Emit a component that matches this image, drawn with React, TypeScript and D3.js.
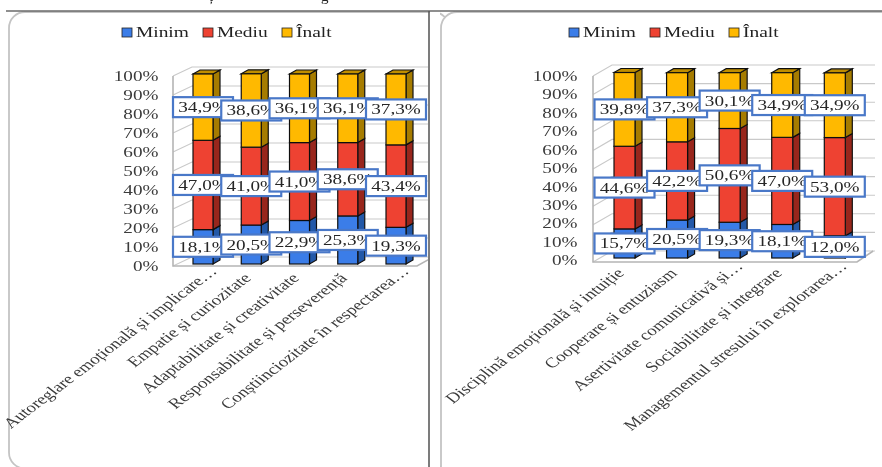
import React from "react";
import * as d3 from "d3";

const seriesNames = ["Minim", "Mediu", "Înalt"];
const leftCategories = [
  "Autoreglare emoțională și implicare…",
  "Empatie și curiozitate",
  "Adaptabilitate și creativitate",
  "Responsabilitate și perseverență",
  "Conștiinciozitate în respectarea…",
];
const leftMinim = [18.1, 20.5, 22.9, 25.3, 19.3];
const leftMediu = [47.0, 41.0, 41.0, 38.6, 43.4];
const leftInalt = [34.9, 38.6, 36.1, 36.1, 37.3];

const rightCategories = [
  "Disciplină emoțională și intuiție",
  "Cooperare și entuziasm",
  "Asertivitate comunicativă și…",
  "Sociabilitate și integrare",
  "Managementul stresului în explorarea…",
];
const rightMinim = [15.7, 20.5, 19.3, 18.1, 12.0];
const rightMediu = [44.6, 42.2, 50.6, 47.0, 53.0];
const rightInalt = [39.8, 37.3, 30.1, 34.9, 34.9];

const ticks = d3.range(0, 101, 10);
const FONT = "'Liberation Serif', 'Times New Roman', serif";
const K = 1.28;
const KCAT = 1.32;
const TEXT = "#3a3a3a";
const front = ["#3b7de8", "#ee4233", "#ffb900"];
const side = ["#2458a8", "#98281e", "#a67c00"];
const topFace = ["#2458a8", "#98281e", "#c08e00"];

const fmt = (v: number) => d3.format(".1f")(v).replace(".", ",") + "%";
const poly = d3.line();

type Layout = {
  id: string;
  wallX: number; wallTop: number; wallBottom: number;
  labelTop: number; labelBottom: number; labelRight: number;
  backDx: number; backDy: number; floorEnd: number; clipRight: number;
  barFirst: number; barLast: number; barTop: number; barBottom: number; barW: number;
  legendX: number[];
  catEnds: [number, number][];
};

const leftLayout: Layout = {
  id: "l", wallX: 173, wallTop: 76, wallBottom: 266,
  labelTop: 76.5, labelBottom: 266.5, labelRight: 158.5,
  backDx: 19, backDy: 9, floorEnd: 417, clipRight: 428,
  barFirst: 203, barLast: 396, barTop: 74, barBottom: 264, barW: 20,
  legendX: [122, 203, 282],
  catEnds: [[218, 272], [252, 279], [300, 279], [348, 279], [410, 272]],
};
const rightLayout: Layout = {
  id: "r", wallX: 593, wallTop: 76, wallBottom: 262,
  labelTop: 76, labelBottom: 260.5, labelRight: 577.5,
  backDx: 19, backDy: 11, floorEnd: 857, clipRight: 875,
  barFirst: 624.5, barLast: 834.8, barTop: 72.7, barBottom: 258, barW: 21,
  legendX: [569, 650, 729],
  catEnds: [[625, 274], [678, 274], [744, 267], [783, 274], [848, 267]],
};

function Chart({ layout: L, categories, values }: { layout: Layout; categories: string[]; values: number[][] }) {
  const rows = categories.map((c, i) => ({ c, s0: values[0][i], s1: values[1][i], s2: values[2][i] }));
  const stacked = d3.stack<any>().keys(["s0", "s1", "s2"])(rows);
  const x = d3.scalePoint<string>().domain(categories).range([L.barFirst, L.barLast]);
  const y = d3.scaleLinear().domain([0, 100]).range([L.barBottom, L.barTop]);
  const wall = d3.scaleLinear().domain([0, 100]).range([L.wallBottom, L.wallTop]);
  const lab = d3.scaleLinear().domain([0, 100]).range([L.labelBottom, L.labelTop]);
  const dd = 7, dh = 4;
  const hw = L.barW / 2;
  return (
    <g>
      <clipPath id={`clip-${L.id}`}>
        <rect x={0} y={0} width={L.clipRight} height={467} />
      </clipPath>
      <g clipPath={`url(#clip-${L.id})`}>
        {ticks.map((t) => (
          <g key={t} stroke="#c9c9c9" strokeWidth={1.1} fill="none">
            <path d={poly([[L.wallX, wall(t)], [L.wallX + L.backDx, wall(t) - L.backDy], [900, wall(t) - L.backDy]]) as string} />
          </g>
        ))}
        <path
          d={poly([[L.wallX, wall(100)], [L.wallX, wall(0)], [L.floorEnd, wall(0)], [L.floorEnd + L.backDx * 0.85, wall(0) - L.backDy]]) as string}
          fill="none" stroke="#b5b5b5" strokeWidth={1.6}
        />
        {rows.map((r, i) => {
          const cx = x(r.c) as number;
          return (
            <g key={r.c}>
              {stacked.map((s, k) => {
                const y0 = y(s[i][0]);
                const y1 = y(s[i][1]);
                const xl = cx - hw, xr = cx + hw;
                return (
                  <g key={k} stroke="#111" strokeWidth={1.2}>
                    <path fill={side[k]} d={poly([[xr, y0], [xr + dd, y0 - dh], [xr + dd, y1 - dh], [xr, y1]]) + "Z"} />
                    {k === 2 && (
                      <path fill={topFace[k]} d={poly([[xl, y1], [xl + dd, y1 - dh], [xr + dd, y1 - dh], [xr, y1]]) + "Z"} />
                    )}
                    <rect x={xl} y={y1} width={L.barW} height={y0 - y1} fill={front[k]} />
                  </g>
                );
              })}
            </g>
          );
        })}
      </g>
      {ticks.map((t) => (
        <text key={t} transform={`translate(${L.labelRight},${lab(t) + 4.8}) scale(${K},1)`} textAnchor="end" fontSize={15} fill={TEXT}>
          {t}%
        </text>
      ))}
      {stacked.map((s, k) => (
        <g key={k}>
          {rows.map((r, i) => {
            const cx = x(r.c) as number;
            const cy = y((s[i][0] + s[i][1]) / 2);
            return (
              <g key={r.c}>
                <rect x={cx - 30} y={cy - 10} width={60} height={20} fill="#fff" stroke="#4a78c8" strokeWidth={2.2} />
                <text transform={`translate(${cx},${cy + 5}) scale(${K},1)`} textAnchor="middle" fontSize={15} fill="#262626">
                  {fmt(s[i][1] - s[i][0])}
                </text>
              </g>
            );
          })}
        </g>
      ))}
      {seriesNames.map((n, k) => (
        <g key={n}>
          <rect x={L.legendX[k]} y={28} width={10} height={9} fill={front[k]} stroke="#222" strokeWidth={0.8} />
          <text transform={`translate(${L.legendX[k] + 14},37) scale(1.34,1)`} fontSize={14.5} fill="#222">{n}</text>
        </g>
      ))}
      {categories.map((c, i) => (
        <text key={c} transform={`translate(${L.catEnds[i][0]},${L.catEnds[i][1]}) scale(${KCAT},1) rotate(-45)`} textAnchor="end" fontSize={14.4} fill={TEXT}>
          {c}
        </text>
      ))}
    </g>
  );
}

export default function App() {
  return (
    <svg
      width={882}
      height={467}
      viewBox="0 0 882 467"
      style={{ position: "absolute", left: 0, top: 0, background: "#fff" }}
      fontFamily={FONT}
    >
      <defs>
        <filter id="soft" x="-2%" y="-2%" width="104%" height="104%">
          <feGaussianBlur stdDeviation="0.35" />
        </filter>
      </defs>
      <g filter="url(#soft)">
        <text x={209} y={1} fontSize={15} fill="#222">ț</text>
        <text x={321} y={1} fontSize={15} fill="#222">g</text>
        <rect x={9} y={12} width={440} height={456.5} rx={16} fill="#fff" stroke="#c4c4c4" strokeWidth={1.8} />
        <rect x={441} y={12} width={500} height={520} rx={16} fill="#fff" stroke="#c4c4c4" strokeWidth={1.8} />
        <rect x={430} y={0} width={10} height={467} fill="#fff" />
        <Chart layout={leftLayout} categories={leftCategories} values={[leftMinim, leftMediu, leftInalt]} />
        <Chart layout={rightLayout} categories={rightCategories} values={[rightMinim, rightMediu, rightInalt]} />
        <line x1={6} x2={882} y1={11} y2={11} stroke="#6a6a6a" strokeWidth={1.6} />
        <line x1={429} x2={429} y1={11} y2={467} stroke="#5a5a5a" strokeWidth={1.6} />
      </g>
    </svg>
  );
}
